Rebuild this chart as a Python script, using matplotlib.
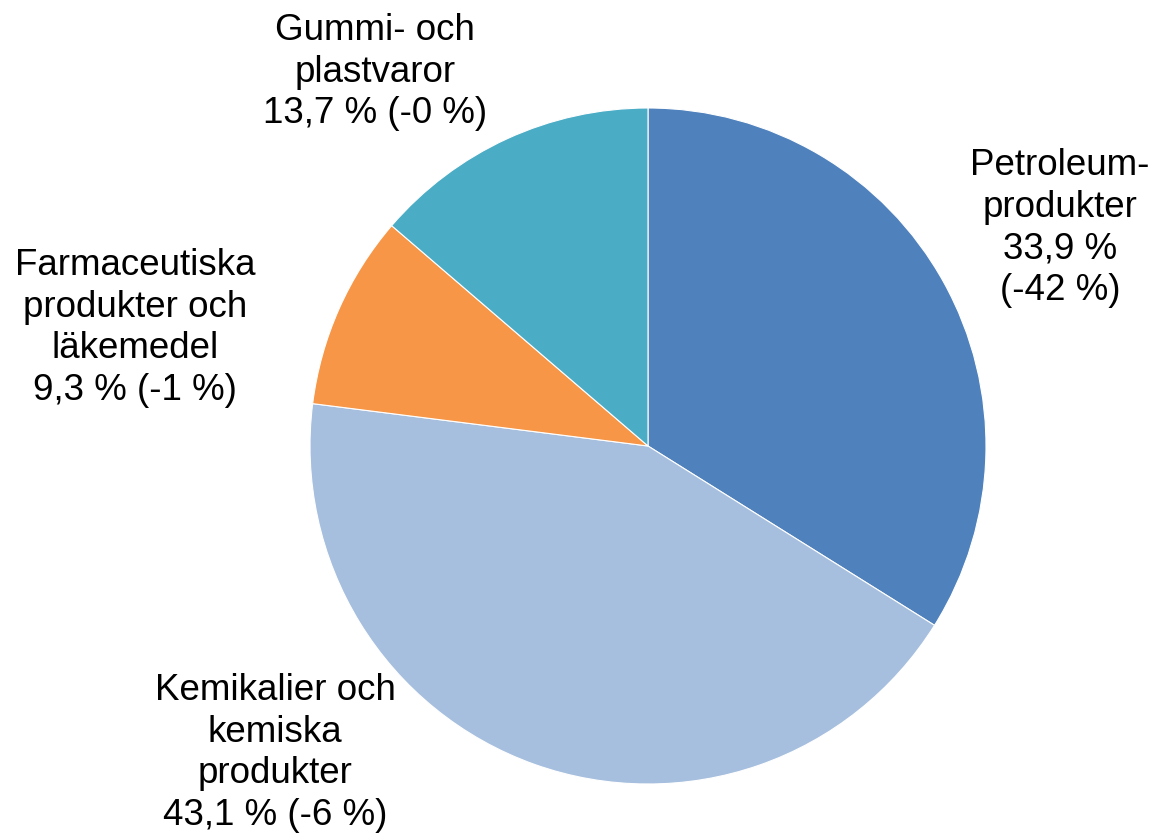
import matplotlib.pyplot as plt

# andelar av exporten (%) och förändring
andelar = [33.9, 43.1, 9.3, 13.7]
etiketter = ["Petroleum-\nprodukter\n33,9 %\n(-42 %)",
             "Kemikalier och\nkemiska\nprodukter\n43,1 % (-6 %)",
             "Farmaceutiska\nprodukter och\nläkemedel\n9,3 % (-1 %)",
             "Gummi- och\nplastvaror\n13,7 % (-0 %)"]
farger = ["#4F81BD", "#A7BFDE", "#F79646", "#4BACC6"]

# etikettplaceringar i pixlar (x, y uppifrån)
etikett_pos = [(1060, 228), (275, 753), (135, 328), (375, 72)]

W, H = 1155, 835
fig = plt.figure(figsize=(W / 100, H / 100), dpi=100)
ax = fig.add_axes([0, 0, 1, 1])

ax.pie(andelar, colors=farger, startangle=90, counterclock=False,
       center=(648, H - 446), radius=338,
       wedgeprops=dict(edgecolor="white", linewidth=0.8), frame=True)

for txt, (px, py) in zip(etiketter, etikett_pos):
    ax.text(px, H - py, txt, ha="center", va="center", fontsize=26.5,
            family="Liberation Sans", linespacing=1.24)

ax.set_xlim(0, W)
ax.set_ylim(0, H)
ax.set_aspect("equal")
ax.axis("off")

plt.savefig("out.png", dpi=100)
